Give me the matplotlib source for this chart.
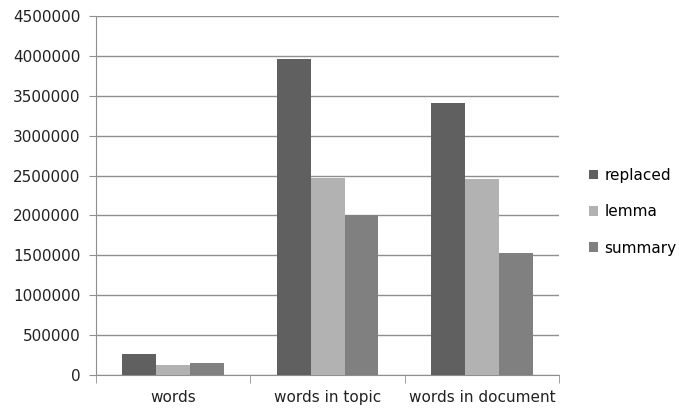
import numpy as np
import matplotlib
matplotlib.use("Agg")
import matplotlib.pyplot as plt

categories = ["words", "words in topic", "words in document"]
series = ["replaced", "lemma", "summary"]
replaced = [260000, 3960000, 3410000]
lemma = [125000, 2470000, 2455000]
summary = [150000, 2000000, 1530000]
colors = ["#606060", "#b2b2b2", "#808080"]

plt.rcParams["font.family"] = ["DejaVu Sans"]

fig = plt.figure(figsize=(6.79, 4.09), dpi=100)
ax = fig.add_axes([0.1414, 0.0831, 0.682, 0.8778])

x = np.arange(len(categories))
w = 0.22
for i, (name, vals) in enumerate(zip(series, [replaced, lemma, summary])):
    ax.bar(x + (i - 1) * w, vals, width=w, color=colors[i], label=name, zorder=3)

ax.set_xlim(-0.5, 2.5)
ax.set_ylim(0, 4500000)
ax.set_yticks(np.arange(0, 4500001, 500000))
ax.set_yticklabels([str(v) for v in range(0, 4500001, 500000)], fontsize=11, color="#222222")
ax.yaxis.grid(True, color="#8f8f8f", linewidth=1, zorder=0)

ax.set_xticks(x)
ax.set_xticklabels(categories, fontsize=11, color="#222222")
ax.set_xticks(np.arange(-0.5, 2.6, 1), minor=True)
ax.tick_params(axis="x", which="major", length=0, pad=11)
ax.tick_params(axis="x", which="minor", length=6, color="#8f8f8f")
ax.tick_params(axis="y", length=5, color="#8f8f8f", pad=6)

for s in ["top", "right"]:
    ax.spines[s].set_visible(False)
for s in ["left", "bottom"]:
    ax.spines[s].set_color("#8f8f8f")

ax.legend(loc="center left", bbox_to_anchor=(1.035, 0.455), frameon=False,
          fontsize=11, handlelength=0.6, handleheight=0.6, handletextpad=0.4,
          labelspacing=1.4)

fig.savefig("out.png", dpi=100)
